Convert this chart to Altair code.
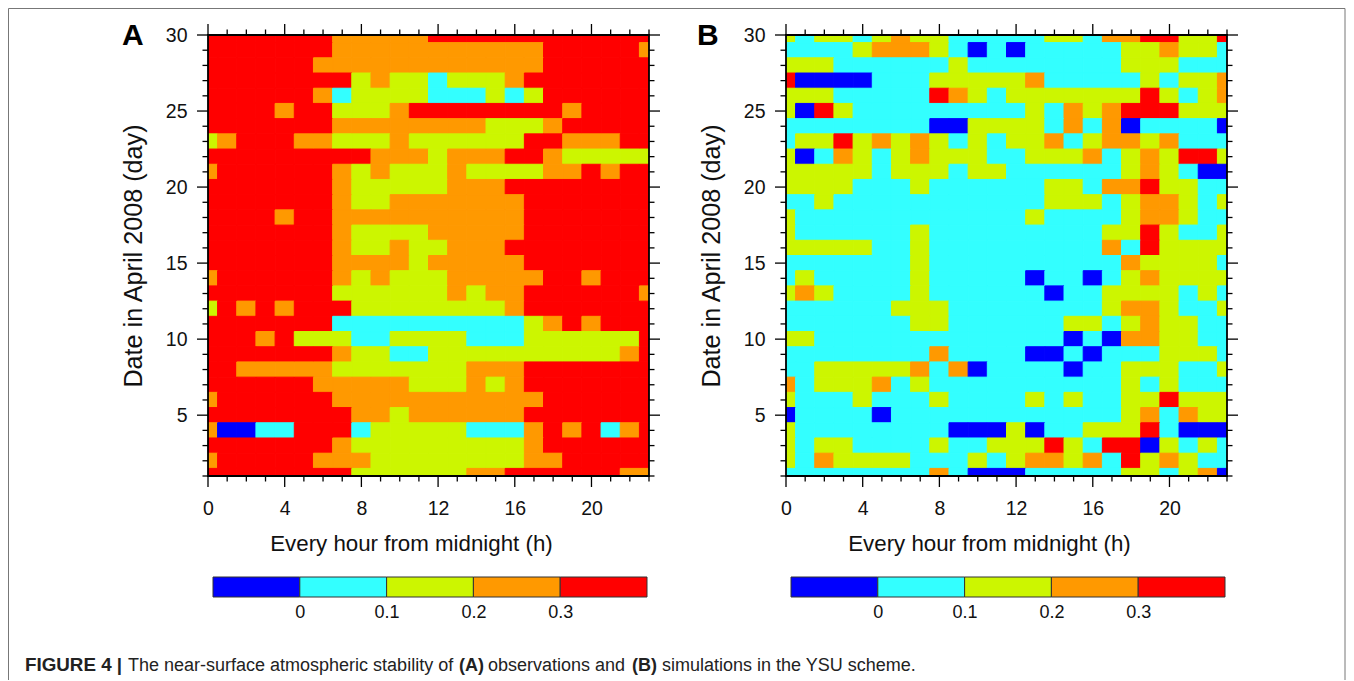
import altair as alt
import pandas as pd

# Row order: day 30 down to day 1; each string holds hours 0..23
# B blue, C cyan, G green, O orange, R red
PANEL_A = [
"RRRRRRROOOOORRRRRRRRRRRR",
"RRRRRRROOOOOOOOOOORRRRRO",
"RRRRRROOOOOOOOOOOORRRRRR",
"RRRRRRRRGOGGCGGGORRRRRRR",
"RRRRRROCGGGGCCCGCGRRRRRR",
"RRRRORRGGGORRRRRRRRORRRR",
"RRRRRRROOOOOOOOGGGORRRRR",
"GORRROOGGGOGGGGGGRROOORR",
"RRRRRRRRROOOGOOORRORGGGG"[:19] + "GGGGG",
"ORRRRRROGOGGGOGGGGOORORR",
"RRRRRRROGGGGGOOORRRRRRRR",
"RRRRRRROGGOOOOOOORRRRRRR",
"RRRRORROOOOOOOOOORRRRRRR",
"RRRRRRROGGGGOOOOORRRRRRR",
"RRRRRRROGGOGGOOORRRRRRRR",
"RRRRRRROOOOGOOOOORRRRRRR",
"ORRRRRROGOGGGOOOOORRORRR",
"RRRRRRRGGGGGGOGOORRRRRRO",
"GRORORRRGGGGGGGGORRRRRRR",
"RRRRRRRCCCCCCCCCCGORORRR",
"RRRORGGGCCGGGGCCCGGGGGGRR"[:24],
"RRRRRRROGGCCGGGGGGGGGGOR",
"RROOOOOGGGGGGGOOORRRRRRR",
"RRRRRROOOOOGGGOGORRRRRRR",
"ORRRRRROOOOOOOOOOORRRRRR",
"RRRRRRRROOGOOOOOORRRRRRR",
"OBBCCRRRCGGGGGCCCOROROCOR"[:20] + "RCOR",
"RRRRRRROGGGGGGGGGORRRRRR",
"ORRRRROOOGGGGGGGGOORRRRR",
"RRRRRRRRGGGGGGOORRRRRROO",
]

PANEL_B = [
"GCGGCGOGGCCCCCGGCOORRGGR",
"CCCCGOOOGCBCBCCCCCGGOGGC",
"GGGCCCCCCGCCCCCCCCGGGCCC",
"RBBBBCCCGGGGGOCCCCCGCGGO",
"GGGCCCCCROGCGGGGGGGRGCGO",
"GBRGCCCCCCCCCGCOGORRRGGG",
"CCCCCCCCBBGGGGCOCOBCCCCB",
"CGGRGOGOGCGCGGOCGOOGOCCC",
"GBCOGCGOGGGCCGGGOCGOGRRG",
"GGGGGCGGGCGGCCCCCCGOGCBB",
"GGGGCCCGCCCCCCGGCOORGGCC",
"CCGCCCCCCCCCCCGGGCGOOGCG",
"GCCCCCCCCCCCCGCCCCGOOGCC",
"GCCCCCCGCCCCCCCCCGGRGCCG",
"GGGGGCCGCCCCCCCCCOCRGGGG",
"CCCCCCCGCCCCCCCCCCOGGGGC",
"CGCCCCCGCCCCCBCCBCGOGGGG",
"GOGCCCCGCCCCCCBCCGGGGCGC",
"CCCCCCGGGCCCCCCCCGOOGCCG",
"CCCCCCCGGCCCCCCGGCGOGGCC",
"GGCCCCCCCCCCCCCBCBOOGGCC",
"CCCCCCCCOCCCCBBCBCCCGGGC",
"CCGGGGGOCOBCCCCBCCGGGCCG",
"OCGGGOCGCCCCCCCCCCGCGCCC",
"GCCCGCCCGCCCCGCGCCGGRGGG",
"BCCCCBCCCCCCCCCCCCGOCOGG",
"GCCCCCCCCBBBGBCCGGGRCBBB",
"GCGGCCCCGCCGGGRGCRRBGCGC",
"GCOGGGGCCCGCGOOGOCRGOGCC",
"CCCCCCCCOCBBBCCCCCGGCGOB",
]

DAYS = list(range(30, 0, -1))
HOURS = list(range(24))
CODES = ["B", "C", "G", "O", "R"]
COLORS = ["#0000ff", "#33ffff", "#ccf600", "#ff9900", "#ff0000"]
LEVEL_LEFT = [-0.1, 0.0, 0.1, 0.2, 0.3]
LEVEL_RIGHT = [0.0, 0.1, 0.2, 0.3, 0.4]
LEVEL_TICKS = [0, 0.1, 0.2, 0.3]
X_MAJOR = [0, 4, 8, 12, 16, 20]
Y_MAJOR = [5, 10, 15, 20, 25, 30]
X_TITLE = "Every hour from midnight (h)"
Y_TITLE = "Date in April 2008 (day)"
FONT = "Liberation Sans"
W, H = 441, 441
MAJ, MIN = 11, 5.5

x_scale = alt.Scale(domain=[0, 23], nice=False, zero=False)
y_scale = alt.Scale(domain=[1, 30], nice=False, zero=False)
color_scale = alt.Scale(domain=CODES, range=COLORS)

x_axis = alt.Axis(
    values=X_MAJOR, title=X_TITLE, ticks=False, domain=False, grid=False, format="d",
    labelFont=FONT, labelFontSize=19.5, labelPadding=23, labelColor="#111", labelFlush=False,
    titleFont=FONT, titleFontSize=22.3, titleFontWeight="normal", titlePadding=15, titleColor="#111",
    titleX=203)
y_axis = alt.Axis(
    values=Y_MAJOR, title=Y_TITLE, ticks=False, domain=False, grid=False, format="d",
    labelFont=FONT, labelFontSize=19.5, labelPadding=21, labelColor="#111", labelFlush=False,
    titleFont=FONT, titleFontSize=25.2, titleFontWeight="normal", titlePadding=19, titleColor="#111")


def cells(rows):
    recs = []
    for d, row in zip(DAYS, rows):
        for h, c in zip(HOURS, row):
            recs.append({"x0": h - 0.5, "x1": h + 0.5, "y0": d - 0.5, "y1": d + 0.5, "c": c})
    return pd.DataFrame(recs)


def xticks(vals, y0, y1):
    return alt.Chart(pd.DataFrame({"v": vals})).mark_rule(color="black", strokeWidth=1.3).encode(
        x=alt.X("v:Q", scale=x_scale, axis=x_axis), y=alt.value(y0), y2=alt.value(y1))


def yticks(vals, x0, x1):
    return alt.Chart(pd.DataFrame({"v": vals})).mark_rule(color="black", strokeWidth=1.3).encode(
        y=alt.Y("v:Q", scale=y_scale, axis=y_axis), x=alt.value(x0), x2=alt.value(x1))


def panel(rows, letter, letter_x):
    heat = alt.Chart(cells(rows)).mark_rect(clip=True, strokeWidth=1).encode(
        x=alt.X("x0:Q", scale=x_scale, axis=x_axis),
        x2="x1:Q",
        y=alt.Y("y0:Q", scale=y_scale, axis=y_axis),
        y2="y1:Q",
        color=alt.Color("c:N", scale=color_scale, legend=None),
        stroke=alt.Stroke("c:N", scale=color_scale, legend=None),
    )
    frame = alt.Chart(pd.DataFrame({"k": [0]})).mark_rect(
        filled=False, stroke="black", strokeWidth=1.8).encode(
        x=alt.value(0), x2=alt.value(W), y=alt.value(0), y2=alt.value(H))
    minor_x = [h for h in HOURS if h not in X_MAJOR]
    minor_y = [d for d in DAYS if d not in Y_MAJOR]
    label = alt.Chart(pd.DataFrame({"t": [letter]})).mark_text(
        font=FONT, fontSize=30, fontWeight="bold", align="left", baseline="alphabetic", color="black").encode(
        text="t:N", x=alt.value(letter_x), y=alt.value(10))
    return alt.layer(
        heat, frame,
        xticks(X_MAJOR, H, H + MAJ), xticks(X_MAJOR, -MAJ, 0),
        xticks(minor_x, H, H + MIN), xticks(minor_x, -MIN, 0),
        yticks(Y_MAJOR, -MAJ, 0), yticks(Y_MAJOR, W, W + MAJ),
        yticks(minor_y, -MIN, 0), yticks(minor_y, W, W + MIN),
        label,
    ).properties(width=W, height=H)


def colorbar(extras=None):
    df = pd.DataFrame({"a": LEVEL_LEFT, "b": LEVEL_RIGHT, "c": CODES})
    bar = alt.Chart(df).mark_rect(stroke="#333", strokeWidth=1).encode(
        x=alt.X("a:Q", scale=alt.Scale(domain=[-0.1, 0.4], range=[5, 439], nice=False, zero=False),
                axis=alt.Axis(values=LEVEL_TICKS, title=None, ticks=False, domain=False, grid=False,
                              format=".1~f", labelFont=FONT, labelFontSize=18, labelPadding=6,
                              labelColor="#111")),
        x2="b:Q",
        color=alt.Color("c:N", scale=color_scale, legend=None),
    )
    layers = [bar] + (extras or [])
    return alt.layer(*layers).properties(width=W, height=20)


# Caption and the figure's thin frame, placed relative to the lower-left panel
BAR_TOP = 577
def caption_piece(t, px, bold=False, size=18):
    return alt.Chart(pd.DataFrame({"t": [t]})).mark_text(
        font=FONT, fontSize=size, fontWeight="bold" if bold else "normal",
        align="left", baseline="alphabetic", color="#222").encode(
        text="t:N", x=alt.value(px - 208), y=alt.value(671 - BAR_TOP))

pieces = [
    caption_piece("FIGURE 4 |", 25, True, 18.8),
    caption_piece("The near-surface atmospheric stability of", 128),
    caption_piece("(A)", 459, True),
    caption_piece("observations and", 488),
    caption_piece("(B)", 632, True),
    caption_piece("simulations in the YSU scheme.", 662),
]
dummy = pd.DataFrame({"k": [0]})
edge = [
    alt.Chart(dummy).mark_rule(color="#777", strokeWidth=1).encode(
        x=alt.value(-199.5), x2=alt.value(1137), y=alt.value(8.5 - BAR_TOP)),
    alt.Chart(dummy).mark_rule(color="#777", strokeWidth=1).encode(
        x=alt.value(-199.5), y=alt.value(8.5 - BAR_TOP), y2=alt.value(680 - BAR_TOP)),
    alt.Chart(dummy).mark_rule(color="#777", strokeWidth=1).encode(
        x=alt.value(1137), y=alt.value(8.5 - BAR_TOP), y2=alt.value(680 - BAR_TOP)),
]

for rows in (PANEL_A, PANEL_B):
    assert len(rows) == 30 and all(len(r) == 24 for r in rows), [len(r) for r in rows]

chart = alt.concat(
    panel(PANEL_A, "A", -86), panel(PANEL_B, "B", -89),
    colorbar(edge + pieces), colorbar(),
    columns=2, spacing={"row": 101, "column": 137}, bounds="flush",
).properties(padding={"left": 0, "top": 0, "right": 0, "bottom": 0}, background="white").configure_view(stroke=None)

chart.save("out.html", embed_options={"renderer": "svg", "actions": False})
